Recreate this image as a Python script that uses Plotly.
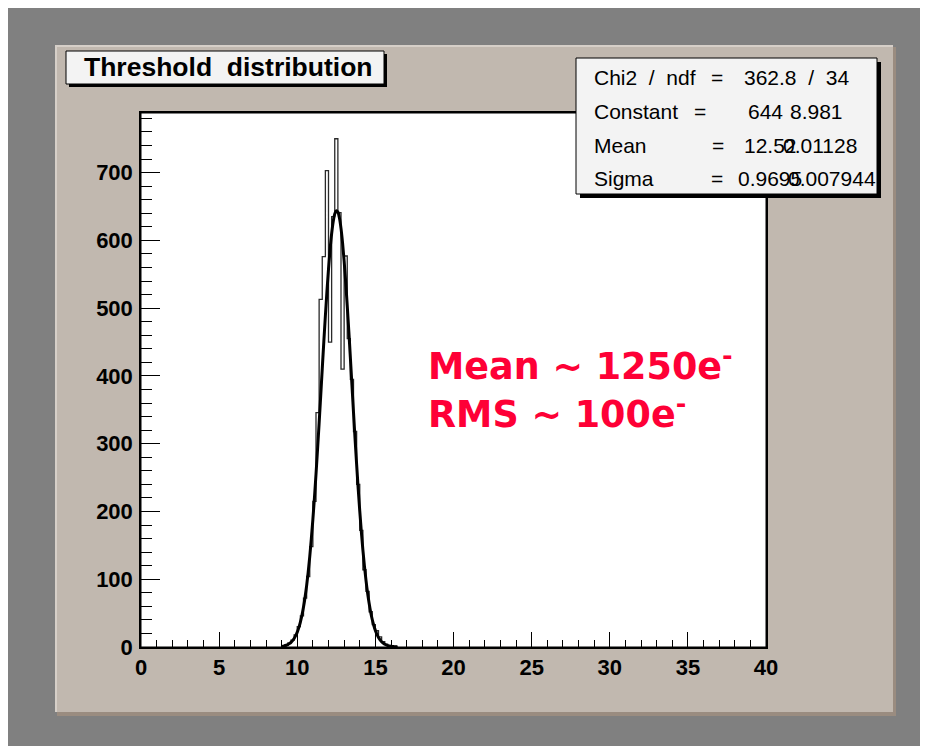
import numpy as np
import plotly.graph_objects as go

# ---------------- data ----------------
hist_start = 9.0
bin_width = 0.2
hist_counts = [1, 3, 6, 10, 18, 30, 46, 72, 104, 148, 215, 346, 513, 576, 703,
               450, 635, 750, 641, 410, 577, 455, 395, 318, 240, 172, 114, 82,
               52, 33, 24, 15, 8, 4, 2, 1, 1]

fit_x_start = 9.0
fit_step = 0.1
fit_values = [0.88, 1.3, 1.8, 2.6, 3.6, 5.0, 6.9, 9.4, 12.6, 16.7, 22.0, 28.6, 36.8,
              46.8, 58.9, 73.5, 90.6, 110.6, 133.4, 159.5, 188.4, 220.0, 254.9,
              291.8, 330.4, 370.3, 410.5, 450.3, 488.8, 524.9, 557.7, 586.4, 609.8,
              627.6, 639.1, 643.9, 641.8, 633.0, 617.7, 596.3, 569.7, 538.4, 503.5,
              466.0, 426.6, 386.4, 346.3, 307.1, 269.4, 233.8, 200.8, 170.7, 143.5,
              119.4, 98.3, 80.0, 64.5, 51.4, 40.6, 31.7, 24.4, 18.7, 14.1, 10.6,
              7.8, 5.7, 4.1, 3.0, 2.1, 1.5, 1.0, 0.7, 0.5, 0.3, 0.2]

x_tick_vals = [0, 5, 10, 15, 20, 25, 30, 35, 40]
y_tick_vals = [0, 100, 200, 300, 400, 500, 600, 700]

title_text = "Threshold\u00a0\u00a0distribution"
stats_rows = [
    ("Chi2\u00a0\u00a0/\u00a0\u00a0ndf", "362.8\u00a0\u00a0/\u00a0\u00a034"),
    ("Constant", "644"),
    ("Mean", "12.52"),
    ("Sigma", "0.9695"),
]
stats_errors = ["", "8.981", "0.01128", "0.007944"]
note_lines = ["Mean ~ 1250e<sup>-</sup>", "RMS ~ 100e<sup>-</sup>"]

# ---------------- geometry (screen pixels; page has an 8px body margin) ----------------
PAGE_OFF = 8
W, H = 928 - PAGE_OFF, 746 - PAGE_OFF
L, R, T, B = 141, 766, 113, 647   # plot frame in screen pixels


def px(X):
    return (X - L) / (R - L)


def py(Y):
    return (B - Y) / (B - T)


edges = np.round(hist_start + bin_width * np.arange(len(hist_counts) + 1), 2)
step_x = [edges[0]] + list(edges)
step_y = [0] + hist_counts + [0]

fit_x = np.round(fit_x_start + fit_step * np.arange(len(fit_values)), 2)

fig = go.Figure()
fig.add_trace(go.Scatter(x=step_x, y=step_y, mode="lines", line_shape="hv",
                         line=dict(color="#2a2a2a", width=1.3), hoverinfo="skip"))
fig.add_trace(go.Scatter(x=fit_x, y=fit_values, mode="lines", line_shape="spline",
                         line=dict(color="black", width=3), hoverinfo="skip"))

shapes = []


def rect(x0, y0, x1, y1, fill, line_color=None, lw=0, layer="below"):
    shapes.append(dict(type="rect", xref="paper", yref="paper", layer=layer,
                       x0=px(x0), x1=px(x1), y0=py(y0), y1=py(y1),
                       fillcolor=fill,
                       line=dict(color=line_color or fill, width=lw)))


# outer gray background
rect(0, 0, 940, 760, "#808080")
# canvas bevel / shadow
rect(57, 47, 896, 716, "#9a8c80")
rect(55, 45, 893, 712, "#c1b8af")
rect(55, 45, 893, 47, "#d6cfc8")
rect(55, 45, 57, 712, "#d6cfc8")
# plot frame
rect(L, T, R, B, "white", "black", 1)
# title box + shadow
rect(69, 54, 387, 87, "black", layer="above")
rect(66, 51, 384, 84, "#f3f3f3", "black", 1, layer="above")
# stats box + shadow
rect(580, 62, 881, 198, "black", layer="above")
rect(576, 58, 877, 194, "#f3f3f3", "black", 1, layer="above")

ann = []


def text(X, Y, s, size, anchor="left", color="black", family="Liberation Sans, Arial",
         weight="normal"):
    ann.append(dict(xref="paper", yref="paper", x=px(X), y=py(Y), text=s,
                    showarrow=False, xanchor=anchor, yanchor="middle",
                    font=dict(size=size, color=color, family=family, weight=weight)))


text(82, 67, title_text, 26.5, weight="bold")

row_y = [78, 111, 145, 178]
eq_x = [717, 700, 718, 717]
val_x = [742, 746, 742, 736]
err_x = [None, 788, 781, 786]
for i, (lab, val) in enumerate(stats_rows):
    text(592, row_y[i], lab, 21)
    text(eq_x[i], row_y[i], "=", 21, anchor="center")
    text(val_x[i], row_y[i], val, 21)
    if stats_errors[i]:
        text(err_x[i], row_y[i], stats_errors[i], 21)

text(426, 364, note_lines[0], 36.5, color="#fe0036", family="DejaVu Sans", weight="bold")
text(426, 412, note_lines[1], 36.5, color="#fe0036", family="DejaVu Sans", weight="bold")

tickfont = dict(family="Liberation Sans, Arial", size=22, color="black", weight="bold")
fig.update_layout(
    width=W, height=H,
    margin=dict(l=L - PAGE_OFF, r=W - (R - PAGE_OFF), t=T - PAGE_OFF,
                b=H - (B - PAGE_OFF), pad=0),
    paper_bgcolor="white", plot_bgcolor="white",
    showlegend=False,
    shapes=shapes, annotations=ann,
    xaxis=dict(range=[0, 40], tickvals=x_tick_vals, ticks="inside", ticklen=15,
               tickwidth=1, tickcolor="black", showgrid=False, zeroline=False,
               showline=True, mirror=True, linecolor="black", linewidth=1.5,
               tickfont=tickfont, ticklabelstandoff=0,
               minor=dict(dtick=1, ticks="inside", ticklen=7, tickcolor="black",
                          tickwidth=1, showgrid=False)),
    yaxis=dict(range=[0, 788], tickvals=y_tick_vals, ticks="inside", ticklen=19,
               tickwidth=1, tickcolor="black", showgrid=False, zeroline=False,
               showline=True, mirror=True, linecolor="black", linewidth=1.5,
               tickfont=tickfont, ticklabelstandoff=2,
               minor=dict(dtick=20, ticks="inside", ticklen=11, tickcolor="black",
                          tickwidth=1, showgrid=False)),
)

fig.write_html("out.html")
